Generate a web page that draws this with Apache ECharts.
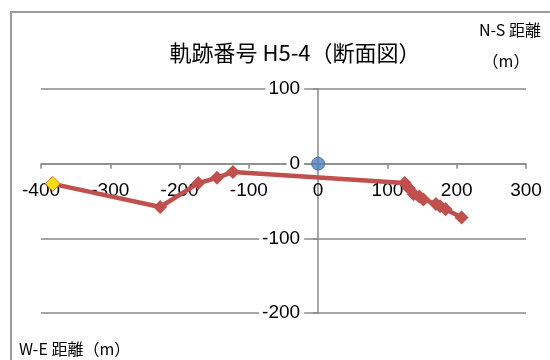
<!DOCTYPE html>
<html>
<head>
<meta charset="utf-8">
<script src="https://cdn.jsdelivr.net/npm/echarts@6/dist/echarts.min.js"></script>
<style>
  html, body { margin: 0; padding: 0; background: #fff; }
  #chart { width: 550px; height: 360px; }
</style>
</head>
<body>
<div id="chart"></div>
<script>
// Track H5-4 plan view: W-E distance (x) vs N-S distance (y), metres
const weDist = [-383, -228, -173, -146, -123, 125, 131, 138, 146, 152, 170, 176, 184, 207];
const nsDist = [-27, -58, -26, -19, -11, -26, -33, -41, -44, -48, -54, -57, -61, -72];
const startPoint = [-383, -27];
const origin = [0, 0];
const xTicks = { min: -400, max: 300, step: 100 };
const yTicks = { min: -200, max: 100, step: 100 };

const trackData = weDist.map((x, i) => [x, nsDist[i]]);
const labelFont = 'Liberation Sans, Arial, sans-serif';
const cjkFont = '"Noto Sans CJK JP", sans-serif';
const gridColor = '#8a8a8a';

// plot box, in pixels
const box = { left: 41, right: 24, top: 89, bottom: 47, width: 485, height: 224 };
// axes cross at the origin: shift each axis from its grid edge to the zero line
const xAxisShift = -box.height * (0 - yTicks.min) / (yTicks.max - yTicks.min);
const yAxisShift = -box.width * (0 - xTicks.min) / (xTicks.max - xTicks.min);

const chart = echarts.init(document.getElementById('chart'));
chart.setOption({
  animation: false,
  backgroundColor: '#fff',
  grid: { left: box.left, right: box.right, top: box.top, bottom: box.bottom,
          outerBoundsMode: 'none', containLabel: false },
  xAxis: {
    type: 'value', position: 'bottom', offset: xAxisShift,
    min: xTicks.min, max: xTicks.max, interval: xTicks.step,
    axisLine: { onZero: false, lineStyle: { color: gridColor, width: 1.5 } },
    axisTick: { show: true, length: 5, lineStyle: { color: gridColor, width: 1.5 } },
    splitLine: { show: false },
    axisLabel: { color: '#000', fontFamily: labelFont, fontSize: 19, margin: 18 }
  },
  yAxis: {
    type: 'value', position: 'left', offset: yAxisShift,
    min: yTicks.min, max: yTicks.max, interval: yTicks.step,
    axisLine: { onZero: false, lineStyle: { color: gridColor, width: 1.5 } },
    axisTick: { show: true, length: 5, lineStyle: { color: gridColor, width: 1.5 } },
    splitLine: { show: true, lineStyle: { color: gridColor, width: 1.5 } },
    axisLabel: {
      color: '#000', fontFamily: labelFont, fontSize: 19, margin: 14,
      backgroundColor: '#fff', padding: [0, 4, 0, 3]
    }
  },
  graphic: [
    { type: 'rect', shape: { x: 11, y: 12, width: 700, height: 500 },
      style: { fill: 'none', stroke: '#9a9a9a', lineWidth: 2 }, z: 0 },
    { type: 'text', x: 295, y: 53,
      style: { text: '軌跡番号 H5-4（断面図）', font: '22px ' + cjkFont, fill: '#000',
               textAlign: 'center', textVerticalAlign: 'middle' } },
    { type: 'text', x: 510, y: 30,
      style: { text: 'N-S 距離', font: '16px ' + cjkFont, fill: '#000',
               textAlign: 'center', textVerticalAlign: 'middle' } },
    { type: 'text', x: 506, y: 61,
      style: { text: '（m）', font: '16px ' + cjkFont, fill: '#000',
               textAlign: 'center', textVerticalAlign: 'middle' } },
    { type: 'text', x: 19, y: 349,
      style: { text: 'W-E 距離（m）', font: '16px ' + cjkFont, fill: '#000',
               textAlign: 'left', textVerticalAlign: 'middle' } }
  ],
  series: [
    {
      type: 'line',
      data: trackData,
      symbol: 'diamond',
      symbolSize: 14,
      lineStyle: { color: '#C0504D', width: 4.5 },
      itemStyle: { color: '#C0504D' },
      z: 3
    },
    {
      type: 'scatter',
      data: [startPoint],
      symbol: 'diamond',
      symbolSize: 15,
      itemStyle: { color: '#FFFF00', borderColor: '#D0603A', borderWidth: 1 },
      z: 4
    },
    {
      type: 'scatter',
      data: [origin],
      symbol: 'circle',
      symbolSize: 13,
      itemStyle: { color: '#4F81BD', borderColor: '#3B6AA0', borderWidth: 1 },
      z: 4
    }
  ]
});
</script>
</body>
</html>
